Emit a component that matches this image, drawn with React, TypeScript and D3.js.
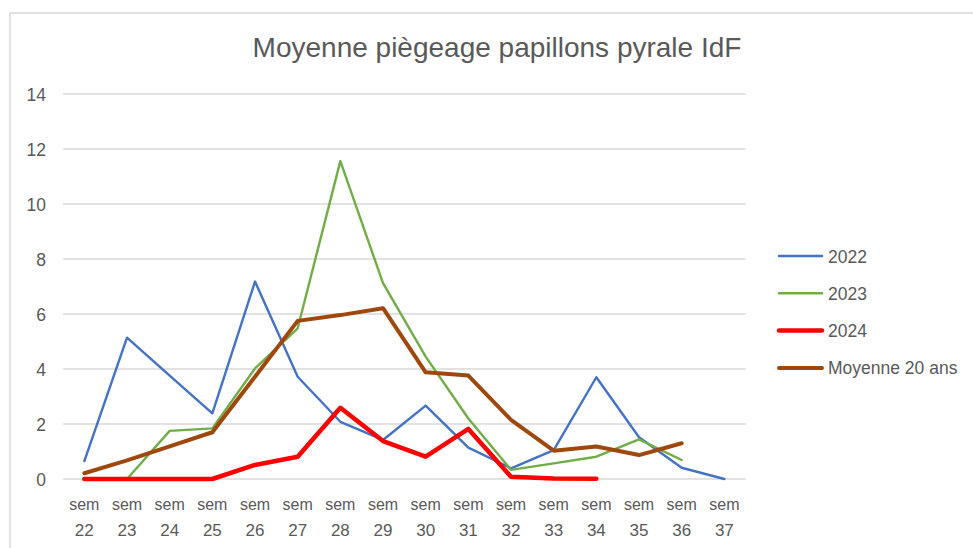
import React from "react";
import * as d3 from "d3";

const categories = ["22","23","24","25","26","27","28","29","30","31","32","33","34","35","36","37"];
const yTicks = [0, 2, 4, 6, 8, 10, 12, 14];

const s2022: (number | null)[] = [0.65, 5.14, 3.76, 2.39, 7.18, 3.72, 2.08, 1.42, 2.67, 1.14, 0.39, 1.05, 3.7, 1.52, 0.41, 0];
const s2023: (number | null)[] = [null, 0, 1.75, 1.84, 4.02, 5.48, 11.56, 7.12, 4.45, 2.2, 0.33, 0.57, 0.81, 1.44, 0.69, null];
const s2024: (number | null)[] = [0, 0, 0, 0, 0.51, 0.81, 2.59, 1.38, 0.81, 1.82, 0.08, 0.02, 0.01, null, null, null];
const sMoy: (number | null)[] = [0.21, 0.68, 1.19, 1.7, 3.72, 5.75, 5.96, 6.21, 3.88, 3.76, 2.15, 1.03, 1.18, 0.87, 1.3, null];

const seriesNames = ["2022", "2023", "2024", "Moyenne 20 ans"];
const seriesData = [s2022, s2023, s2024, sMoy];
const seriesColors = ["#4472C4", "#70AD47", "#FF0000", "#9E480E"];
const seriesWidths = [2.4, 2.4, 4.5, 4];

const FONT = '"Liberation Sans", Arial, sans-serif';
const TEXT = "#595959";

export default function App() {
  const W = 973, H = 548;
  const x = d3.scalePoint<string>().domain(categories).range([63, 745.7]).padding(0.5);
  const y = d3.scaleLinear().domain([0, 14]).range([479, 94]);

  const line = d3.line<number | null>()
    .defined((d) => d !== null)
    .x((_, i) => x(categories[i]) as number)
    .y((d) => y(d as number));

  return (
    <svg width={W} height={H} style={{ position: "absolute", left: 0, top: 0, background: "#fff" }}>
      <rect x={10} y={13} width={1200} height={1200} fill="#fff" stroke="#D9D9D9" strokeWidth={1.5} />
      <text x={497} y={57} textAnchor="middle" fontFamily={FONT} fontSize={28} fill={TEXT}>
        Moyenne piègeage papillons pyrale IdF
      </text>
      {yTicks.map((t) => (
        <g key={t}>
          <line x1={63} x2={745.7} y1={y(t)} y2={y(t)} stroke="#D9D9D9" strokeWidth={1.5} />
          <text x={46} y={y(t) + 6.5} textAnchor="end" fontFamily={FONT} fontSize={17.5} fill={TEXT}>
            {t}
          </text>
        </g>
      ))}
      {categories.map((c) => (
        <g key={c}>
          <text x={x(c)} y={510} textAnchor="middle" fontFamily={FONT} fontSize={16} fill={TEXT}>sem</text>
          <text x={x(c)} y={535.5} textAnchor="middle" fontFamily={FONT} fontSize={17} fill={TEXT}>{c}</text>
        </g>
      ))}
      {seriesData.map((s, i) => (
        <path key={i} d={line(s) || ""} fill="none" stroke={seriesColors[i]} strokeWidth={seriesWidths[i]}
          strokeLinejoin="round" strokeLinecap="round" />
      ))}
      {seriesNames.map((n, i) => {
        const ly = 256 + i * 37.3;
        return (
          <g key={n}>
            <line x1={779} x2={822} y1={ly} y2={ly} stroke={seriesColors[i]} strokeWidth={seriesWidths[i]} strokeLinecap="round" />
            <text x={828} y={ly + 6.5} fontFamily={FONT} fontSize={17.5} fill={TEXT}>{n}</text>
          </g>
        );
      })}
    </svg>
  );
}
